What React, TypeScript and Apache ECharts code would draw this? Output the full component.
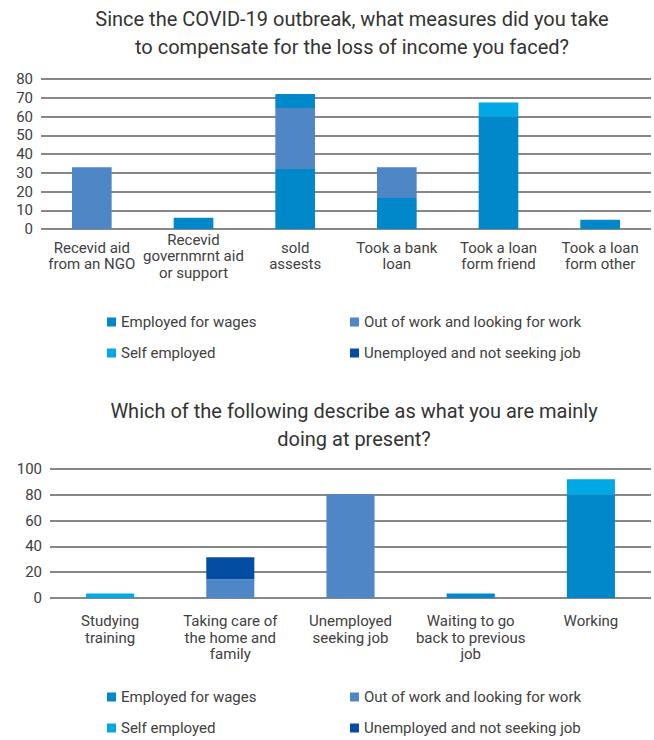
import React, { useEffect, useRef } from "react";
import * as echarts from "echarts";

const seriesNames = [
  "Employed for wages",
  "Out of work and looking for work",
  "Self employed",
  "Unemployed and not seeking job",
];
const colors = ["#0088CB", "#4F86C6", "#00A9E3", "#034EA2"];

// Chart 1
const title1 = "Since the COVID-19 outbreak, what measures did you take\nto compensate for the loss of income you faced?";
const categories1 = [
  "Recevid aid\nfrom an NGO",
  "Recevid\ngovernmrnt aid\nor support",
  "sold\nassests",
  "Took a bank\nloan",
  "Took a loan\nform friend",
  "Took a loan\nform other",
];
const employed1 = [null, 6, 32, 16.5, 60, 5];
const outOfWork1 = [33, null, 32.5, 16.5, null, null];
const selfEmployed1 = [null, null, null, null, 7.5, null];
const unemployed1 = [null, null, null, null, null, null];
const employedExtra1 = [null, null, 7.5, null, null, null];
const yTicks1 = { min: 0, max: 80, interval: 10 };

// Chart 2
const title2 = "Which of the following describe as what you are mainly\ndoing at present?";
const categories2 = [
  "Studying\ntraining",
  "Taking care of\nthe home and\nfamily",
  "Unemployed\nseeking job",
  "Waiting to go\nback to previous\njob",
  "Working",
];
const employed2 = [null, null, null, 3.5, 80];
const outOfWork2 = [null, 14.5, 80.5, null, null];
const selfEmployed2 = [3.5, null, null, null, 12];
const unemployed2 = [null, 17, null, null, null];
const yTicks2 = { min: 0, max: 100, interval: 20 };

const FONT = "Roboto";
const TEXT = "#404040";
const GRIDLINE = "#5f5f5f";

export default function App() {
  const ref = useRef<HTMLDivElement>(null);
  useEffect(() => {
    if (!ref.current) return;
    const chart = echarts.init(ref.current, null, { renderer: "svg" });

    const mkSeries = (name: string, data: any[], color: string, idx: number, stack: string) => ({
      name,
      type: "bar",
      data,
      stack,
      xAxisIndex: idx,
      yAxisIndex: idx,
      barWidth: idx === 0 ? "39%" : "40%",
      itemStyle: { color },
    });

    const legendCommon = {
      orient: "vertical",
      icon: "rect",
      itemWidth: 9,
      itemHeight: 9,
      itemGap: 13,
      padding: 0,
      textStyle: { fontSize: 15, color: TEXT, fontFamily: FONT, lineHeight: 18 },
    };

    const yAxisCommon = {
      type: "value",
      axisLine: { show: false },
      axisTick: { show: false },
      axisLabel: { fontSize: 15, color: TEXT, fontFamily: FONT, margin: 8 },
      splitLine: { show: true, lineStyle: { color: GRIDLINE, width: 1.5 } },
    };

    chart.setOption({
      animation: false,
      backgroundColor: "#ffffff",
      title: [
        {
          text: title1,
          left: 347,
          top: 0,
          textAlign: "center",
          textStyle: { fontSize: 20, lineHeight: 28, color: "#333333", fontWeight: "normal", fontFamily: FONT },
        },
        {
          text: title2,
          left: 349,
          top: 392,
          textAlign: "center",
          textStyle: { fontSize: 20, lineHeight: 28, color: "#333333", fontWeight: "normal", fontFamily: FONT },
        },
      ],
      legend: [
        { ...legendCommon, left: 107, top: 313, data: [seriesNames[0], seriesNames[2]] },
        { ...legendCommon, left: 350, top: 313, data: [seriesNames[1], seriesNames[3]] },
        { ...legendCommon, left: 107, top: 688, data: [seriesNames[0], seriesNames[2]] },
        { ...legendCommon, left: 350, top: 688, data: [seriesNames[1], seriesNames[3]] },
      ],
      grid: [
        { left: 41, right: 3, top: 79, height: 150 },
        { left: 50, right: 3, top: 469, height: 129 },
      ],
      xAxis: [
        {
          type: "category",
          gridIndex: 0,
          data: categories1,
          axisLine: { show: false },
          axisTick: { show: false },
          axisLabel: {
            interval: 0,
            fontSize: 15,
            color: TEXT,
            fontFamily: FONT,
            lineHeight: 16.5,
            verticalAlign: "middle",
            margin: 27,
          },
        },
        {
          type: "category",
          gridIndex: 1,
          data: categories2,
          axisLine: { show: false },
          axisTick: { show: false },
          axisLabel: {
            interval: 0,
            fontSize: 15,
            color: TEXT,
            fontFamily: FONT,
            lineHeight: 16.5,
            verticalAlign: "top",
            margin: 15,
          },
        },
      ],
      yAxis: [
        { ...yAxisCommon, gridIndex: 0, ...yTicks1 },
        { ...yAxisCommon, gridIndex: 1, ...yTicks2 },
      ],
      series: [
        mkSeries(seriesNames[0], employed1, colors[0], 0, "s1"),
        mkSeries(seriesNames[1], outOfWork1, colors[1], 0, "s1"),
        mkSeries(seriesNames[2], selfEmployed1, colors[2], 0, "s1"),
        mkSeries(seriesNames[3], unemployed1, colors[3], 0, "s1"),
        mkSeries(seriesNames[0], employedExtra1, colors[0], 0, "s1"),
        mkSeries(seriesNames[0], employed2, colors[0], 1, "s2"),
        mkSeries(seriesNames[1], outOfWork2, colors[1], 1, "s2"),
        mkSeries(seriesNames[2], selfEmployed2, colors[2], 1, "s2"),
        mkSeries(seriesNames[3], unemployed2, colors[3], 1, "s2"),
      ],
    });
    return () => chart.dispose();
  }, []);

  return (
    <div
      ref={ref}
      style={{ position: "fixed", left: 0, top: 0, width: 654, height: 740, background: "#fff" }}
    />
  );
}
